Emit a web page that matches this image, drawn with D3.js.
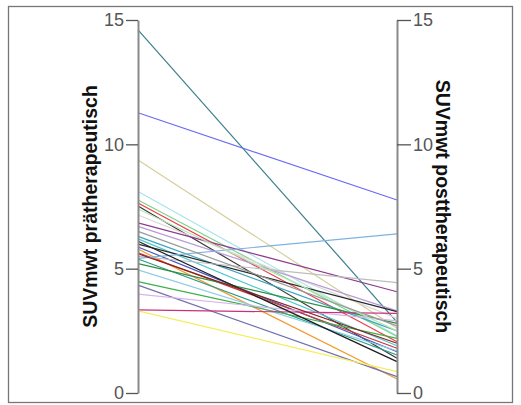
<!DOCTYPE html>
<html><head><meta charset="utf-8">
<script src="https://cdn.jsdelivr.net/npm/d3@7"></script>
<style>body{margin:0;background:#fff;} svg{display:block;}</style>
</head><body>
<svg id="c" width="521" height="405"></svg>
<script>
const dimensions = ["SUVmwt prätherapeutisch", "SUVmwt posttherapeutisch"];
const tickValues = [0, 5, 10, 15];
const preValues  = [14.6, 11.27, 9.37, 8.1, 7.76, 7.64, 7.52, 7.16, 6.84, 6.7, 6.3, 6.2, 5.99, 5.87, 5.79, 5.64, 5.5, 5.39, 5.41, 5.2, 4.95, 4.48, 4.34, 3.98, 3.34, 3.3, 6.1, 5.6, 7.4, 6.5];
const postValues = [2.85, 7.76, 2.6, 2.3, 2.27, 2.06, 1.4, 3.0, 4.07, 3.3, 2.5, 1.9, 3.27, 1.66, 0.56, 1.8, 4.44, 1.53, 6.4, 2.8, 1.7, 2.2, 0.66, 2.9, 3.2, 0.86, 1.26, 2.0, 2.5, 2.7];
const palette = ["#3a7f8c", "#6b6bf5", "#d6cf9c", "#a9e4ea", "#7fd48a", "#e8404a", "#3a3a3a", "#d9d9d9", "#8e3a8e", "#b89ad6", "#3ea3bd", "#4ec6d0", "#2a2a2a", "#4457c0", "#f39a2c", "#c33a3a", "#bdbdbd", "#2b9a8b", "#7fb3dd", "#2f8f40", "#90cce6", "#3cb04a", "#7070b0", "#d9b3ea", "#c8307c", "#f4ee5c", "#1e1e1e", "#8b2020", "#b8e6b8", "#9a9a9a"];

const svg = d3.select("#c");
const W = 521, H = 405;
const xL = 138, xR = 397, yTop = 20, yBot = 393;

svg.append("rect").attr("x", 8.5).attr("y", 6.5).attr("width", 504).attr("height", 396)
  .attr("fill", "none").attr("stroke", "#777").attr("stroke-width", 1.3);

const x = d3.scalePoint().domain(dimensions).range([xL, xR]);
const y = d3.scaleLinear().domain([0, 15]).range([yBot, yTop]);

const rows = preValues.map((v, i) => ({pre: v, post: postValues[i], color: palette[i % palette.length]}));
const line = d3.line().x(d => d[0]).y(d => d[1]);

svg.append("g").selectAll("path").data(rows).join("path")
  .attr("d", d => line([[x(dimensions[0]), y(d.pre)], [x(dimensions[1]), y(d.post)]]))
  .attr("fill", "none").attr("stroke", d => d.color).attr("stroke-width", 1.2);

function styleAxis(g) {
  g.select(".domain").attr("stroke", "#8a8a8a").attr("stroke-width", 2);
  g.selectAll(".tick line").attr("stroke", "#555").attr("stroke-width", 1.3);
  g.selectAll(".tick text").attr("fill", "#555").style("font-family", "Liberation Sans, Arial, sans-serif").style("font-size", "18px");
}

const axL = svg.append("g").attr("transform", `translate(${x(dimensions[0])},0)`)
  .call(d3.axisLeft(y).tickValues(tickValues).tickSize(12).tickSizeOuter(0).tickPadding(2).tickFormat(d3.format("d")));
styleAxis(axL);
const axR = svg.append("g").attr("transform", `translate(${x(dimensions[1])},0)`)
  .call(d3.axisRight(y).tickValues(tickValues).tickSize(14).tickSizeOuter(0).tickPadding(2).tickFormat(d3.format("d")));
styleAxis(axR);

svg.append("text").attr("transform", `translate(97,${(yTop + yBot) / 2}) rotate(-90)`)
  .attr("text-anchor", "middle").style("font-family", "Liberation Sans, Arial, sans-serif")
  .style("font-weight", "bold").style("font-size", "19.5px").attr("fill", "#111").text(dimensions[0]);
svg.append("text").attr("transform", `translate(436,${(yTop + yBot) / 2}) rotate(90)`)
  .attr("text-anchor", "middle").style("font-family", "Liberation Sans, Arial, sans-serif")
  .style("font-weight", "bold").style("font-size", "19.5px").attr("fill", "#111").text(dimensions[1]);
</script>
</body></html>
